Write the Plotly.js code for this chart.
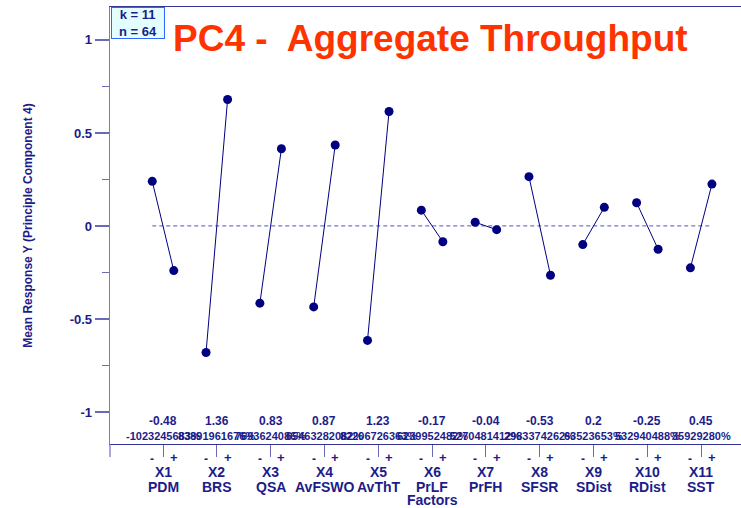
<!DOCTYPE html>
<html>
<head>
<meta charset="utf-8">
<script src="https://cdn.plot.ly/plotly-3.0.1.min.js"></script>
<style>html,body{margin:0;padding:0;background:#fff;}#chart{width:741px;height:508px;}</style>
</head>
<body>
<div id="chart"></div>
<script>
// Factors
var factorCodes = ["X1","X2","X3","X4","X5","X6","X7","X8","X9","X10","X11"];
var factorNames = ["PDM","BRS","QSA","AvFSWO","AvThT","PrLF","PrFH","SFSR","SDist","RDist","SST"];
// Mean response at low (-) and high (+) level
var lowMeans  = [0.24, -0.68, -0.415, -0.435, -0.615, 0.085, 0.02, 0.265, -0.10, 0.125, -0.225];
var highMeans = [-0.24, 0.68, 0.415, 0.435, 0.615, -0.085, -0.02, -0.265, 0.10, -0.125, 0.225];
// Effect labels
var effectLabels = ["-0.48","1.36","0.83","0.87","1.23","-0.17","-0.04","-0.53","0.2","-0.25","0.45"];
// Percentage labels (overlapping in original)
var pctLabels = ["-1023245683%","83891961676%","7693624086%","65463282082%","82206726363%","6239952482%","5270481412%","2983374262%","63523653%","532940488%","35929280%"];
var yTickVals = [-1, -0.5, 0, 0.5, 1];
var yTickText = ["-1","-0.5","0","0.5","1"];

var navy = "#000080";
var textCol = "#1c1c8a";
var font = "Liberation Sans, Arial, sans-serif";
var off = 0.2;

var traces = [];
// zero reference line
traces.push({
  x: [1 - off, factorCodes.length + off], y: [0, 0],
  mode: "lines", line: {color: "#7676d2", width: 1.3, dash: "4px,3px"},
  hoverinfo: "skip", showlegend: false
});
for (var i = 0; i < factorCodes.length; i++) {
  var c = i + 1;
  traces.push({
    x: [c - off, c + off], y: [lowMeans[i], highMeans[i]],
    mode: "lines+markers",
    line: {color: navy, width: 1},
    marker: {color: navy, size: 9, symbol: "circle"},
    showlegend: false, name: factorCodes[i]
  });
}

var ann = [];
function a(x, y, text, size, extra) {
  var o = {x: x, y: y, xref: "x", yref: "paper", text: text, showarrow: false,
    xanchor: "center", yanchor: "middle", font: {family: font, size: size, color: textCol}};
  for (var k in extra) o[k] = extra[k];
  ann.push(o);
}
for (var i = 0; i < factorCodes.length; i++) {
  var c = i + 1;
  a(c, 0.0526, "<b>" + effectLabels[i] + "</b>", 12);
  a(c, 0.018, "<b>" + pctLabels[i] + "</b>", 11);
  a(c - off, -0.034, "<b>-</b>", 12);
  a(c + off, -0.030, "<b>+</b>", 13);
  a(c, -0.063, "<b>" + factorCodes[i] + "</b>", 14);
  a(c, -0.098, "<b>" + factorNames[i] + "</b>", 14);
}
ann.push({x: 6, y: -0.129, xref: "x", yref: "paper", text: "<b>Factors</b>", showarrow: false,
  xanchor: "center", yanchor: "middle", font: {family: font, size: 14, color: textCol}});
ann.push({x: 0.096, y: 0.929, xref: "paper", yref: "paper", xanchor: "left", yanchor: "middle",
  text: "<b>PC4 -  Aggregate Throughput</b>", showarrow: false,
  font: {family: font, size: 37, color: "#ff3300"}});
ann.push({x: 0.001, y: 0.999, xref: "paper", yref: "paper", xanchor: "left", yanchor: "top",
  text: "<b>k = 11<br>n = 64</b>", showarrow: false, align: "center", width: 52, height: 30,
  font: {family: font, size: 13, color: textCol},
  bgcolor: "#e2feff", bordercolor: "#3366ff", borderwidth: 1, borderpad: 0});

var layout = {
  width: 741, height: 508,
  margin: {l: 110, r: 0, t: 7, b: 64},
  paper_bgcolor: "#ffffff", plot_bgcolor: "#ffffff",
  showlegend: false,
  font: {family: font, color: textCol},
  xaxis: {
    range: [0.015, 11.74], showgrid: false, zeroline: false,
    showline: true, mirror: true, linecolor: "#33339a", linewidth: 1.3,
    tickvals: [1,2,3,4,5,6,7,8,9,10,11], ticktext: ["","","","","","","","","","",""],
    ticks: "outside", ticklen: 12, tickcolor: "#6a6ab8", tickwidth: 1
  },
  yaxis: {
    range: [-1.172, 1.177], showgrid: false, zeroline: false,
    showline: true, linecolor: "#7a7acc", linewidth: 1.3,
    tickvals: yTickVals, ticktext: yTickText,
    ticks: "outside", ticklen: 14, tickcolor: "#6a6ab8", tickwidth: 1.3,
    tickfont: {family: font, size: 13, color: textCol, weight: "bold"},
    minor: {dtick: 0.25, tick0: 0, ticks: "outside", ticklen: 7, tickcolor: "#6a6ab8", tickwidth: 1.3, showgrid: false},
    title: {text: "<b>Mean Response Y (Principle Component 4)</b>", standoff: 34,
      font: {family: font, size: 12, color: textCol}}
  },
  shapes: [
    {type: "line", xref: "paper", yref: "paper", x0: 0, x1: 0, y0: 0, y1: -0.03,
     line: {color: "#7a7acc", width: 1.3}}
  ],
  annotations: ann
};

Plotly.newPlot("chart", traces, layout, {staticPlot: true, displayModeBar: false});
</script>
</body>
</html>
